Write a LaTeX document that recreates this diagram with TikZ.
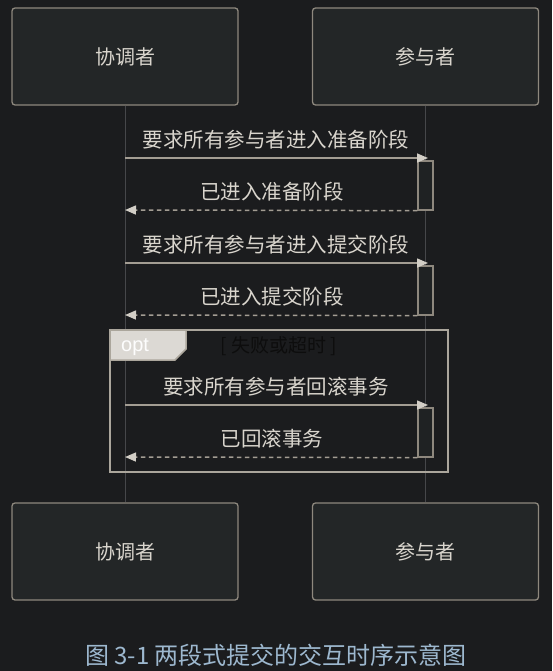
\documentclass[tikz,border=0pt]{standalone}
\usepackage{fontspec}
\setmainfont{Noto Sans CJK SC}
\setsansfont{Liberation Sans}
\usetikzlibrary{arrows.meta}
\definecolor{bg}{HTML}{1B1C1E}
\definecolor{boxfill}{HTML}{232627}
\definecolor{boxline}{HTML}{8E887E}
\definecolor{txt}{HTML}{D9D5CD}
\definecolor{msgline}{HTML}{A39D93}
\definecolor{tipfill}{HTML}{D2CEC6}
\definecolor{lifeline}{HTML}{46474A}
\definecolor{actfill}{HTML}{1F2223}
\definecolor{framecol}{HTML}{ABA69C}
\definecolor{tabfill}{HTML}{DCD9D4}
\definecolor{captcol}{HTML}{9DB8CF}
\tikzset{
  actor/.style={draw=boxline, fill=boxfill, line width=1.3pt, rounded corners=3pt,
    minimum width=226pt, minimum height=97pt, text=txt, font=\fontsize{20}{24}\selectfont, inner sep=0pt},
  life/.style={draw=lifeline, line width=0.8pt},
  act/.style={draw=boxline, fill=actfill, line width=1.3pt, minimum width=15pt, minimum height=49pt, inner sep=0pt},
  msg/.style={draw=msgline, line width=1.5pt, -{Triangle[length=11pt,width=9pt,fill=tipfill,color=tipfill]}},
  ret/.style={msg, dash pattern=on 4.5pt off 3.5pt, line width=1.5pt},
  lbl/.style={text=txt, font=\fontsize{20.5}{24}\selectfont, inner sep=0pt},
}
\begin{document}
\begin{tikzpicture}[x=1pt,y=-1pt]
\fill[bg] (0,0) rectangle (552,671);
\useasboundingbox (0,0) rectangle (552,671);

% actors
\node[actor] (c1) at (125,56.5) {协调者};
\node[actor] (p1) at (425.5,56.5) {参与者};
\node[actor] (c2) at (125,551.5) {协调者};
\node[actor] (p2) at (425.5,551.5) {参与者};

% lifelines
\draw[life] (c1.south) -- (c2.north);
\draw[life] (p1.south) -- (p2.north);

% activations
\node[act] (a1) at (425.5,185.5) {};
\node[act] (a2) at (425.5,290.5) {};
\node[act] (a3) at (425.5,432.5) {};

% coordinates on the lifelines
\coordinate (s1) at (125,158);
\coordinate (e1) at (428,158);
\coordinate (r1) at (125,210);
\coordinate (s2) at (125,263);
\coordinate (e2) at (428,263);
\coordinate (r2) at (125,315);
\coordinate (s3) at (125,405);
\coordinate (e3) at (428,405);
\coordinate (r3) at (125,457);

% messages
\draw[msg] (s1) -- (e1);
\node[lbl] (l1) at (276,140) {要求所有参与者进入准备阶段};
\draw[ret] (a1.south west) -- (r1);
\node[lbl] (l2) at (272,192) {已进入准备阶段};

\draw[msg] (s2) -- (e2);
\node[lbl] (l3) at (276,245) {要求所有参与者进入提交阶段};
\draw[ret] (a2.south west) -- (r2);
\node[lbl] (l4) at (272,297) {已进入提交阶段};

% opt frame
\node[draw=framecol, line width=2pt, minimum width=338pt, minimum height=142pt, inner sep=0pt] (frame) at (279,401) {};
\fill[tabfill, draw=framecol, line width=1.5pt] (110,330) -- (186,330) -- (186,349) -- (175,360) -- (110,360) -- cycle;
\node[text=white!95!tabfill, font=\sffamily\fontsize{20}{22}\selectfont, inner sep=0pt, anchor=west] (optl) at (121,347) {opt};
\node[text=black!95, font=\fontsize{19}{22}\selectfont, inner sep=0pt] (cond) at (279,346) {[ 失败或超时 ]};

\draw[msg] (s3) -- (e3);
\node[lbl] (l5) at (276,387) {要求所有参与者回滚事务};
\draw[ret] (a3.south west) -- (r3);
\node[lbl] (l6) at (272,439) {已回滚事务};

% caption
\node[text=captcol, font=\fontsize{24}{28}\selectfont, inner sep=0pt] (cap) at (276,655) {图 3-1 两段式提交的交互时序示意图};
\end{tikzpicture}
\end{document}
